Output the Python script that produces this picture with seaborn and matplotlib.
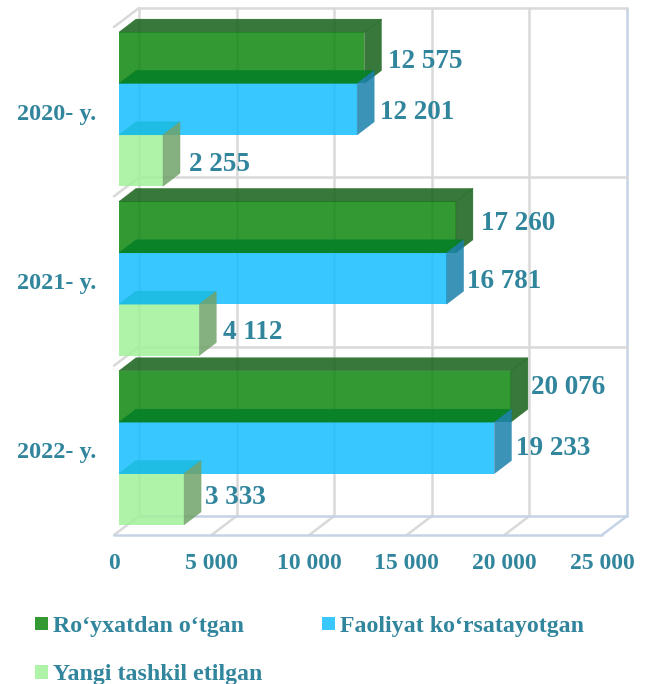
import pandas as pd
import matplotlib
matplotlib.use('Agg')
import matplotlib.pyplot as plt
import seaborn as sns
from matplotlib.patches import Polygon
from matplotlib.transforms import Affine2D

years = ['2020- y.', '2021- y.', '2022- y.']
series = ['Ro‘yxatdan o‘tgan', 'Faoliyat ko‘rsatayotgan', 'Yangi tashkil etilgan']
registered = [12575, 17260, 20076]
active = [12201, 16781, 19233]
new_firms = [2255, 4112, 3333]
x_ticks = [0, 5000, 10000, 15000, 20000, 25000]

front_colors = ['#0f870f', '#15bdff', '#a0f199']
top_colors = ['#156218', '#037f27', '#1bbbde']
side_colors = ['#156218', '#1880ac', '#70a269']
teal = '#31859c'
grid_gray = '#d9d9d9'
floor_blue = '#c5d3e6'

W, H = 649, 684
LEFT, RIGHT, TOP, BOTTOM = 114, 602, 27, 535

df = pd.DataFrame({
    'year': years * 3,
    'kind': [s for s in series for _ in years],
    'value': registered + active + new_firms,
})

sns.set_theme(style='white')
plt.rcParams['font.family'] = ['Liberation Serif', 'DejaVu Serif']
plt.rcParams['font.weight'] = 'bold'

fig = plt.figure(figsize=(W / 100, H / 100), dpi=100)
ax = fig.add_axes([LEFT / W, 1 - BOTTOM / H, (RIGHT - LEFT) / W, (BOTTOM - TOP) / H])

sns.barplot(data=df, y='year', x='value', hue='kind', order=years, hue_order=series,
            palette=front_colors, width=0.91, gap=0, saturation=1, alpha=0.85,
            orient='h', ax=ax, linewidth=0)
ax.set_xlim(0, 25000)
ax.set_ylim(2.5, -0.5)

# chart is a fake 3D box: pixels per data unit, used for the depth offsets
px_x = (RIGHT - LEFT) / 25000
px_y = (BOTTOM - TOP) / 3

# back wall and floor
back = ax.transData + Affine2D().translate(25, 19)
for t in x_ticks:
    c = floor_blue if t == 25000 else grid_gray
    ax.plot([t, t], [-0.5, 2.5], color=c, lw=1.8, transform=back, zorder=1, clip_on=False)
    ax.plot([t, t + 25 / px_x], [2.5, 2.5 - 19 / px_y], color=c, lw=1.8, zorder=1, clip_on=False)
for y in [-0.5, 0.5, 1.5]:
    ax.plot([0, 25000], [y, y], color=grid_gray, lw=1.8, transform=back, zorder=1, clip_on=False)
    ax.plot([0, 25 / px_x], [y, y - 19 / px_y], color=grid_gray, lw=1.8, zorder=1, clip_on=False)
ax.plot([0, 25000], [2.5, 2.5], color=floor_blue, lw=1.8, transform=back, zorder=1.1, clip_on=False)
ax.plot([0, 25000], [2.5, 2.5], color=floor_blue, lw=1.8, zorder=1.1, clip_on=False)

# faces of the bars
shift = ax.transData + Affine2D().translate(5, 2.5)
dx = 17 / px_x
dy = 13 / px_y
# hand placed label offsets in pixels, one row per series
label_dx = [[29, 30, 25], [28, 25, 27], [31, 29, 26]]
label_dy = [[-1, 6, 11], [-1, 0, 2], [-1, 0, 4]]
for i, container in enumerate(ax.containers):
    for j, bar in enumerate(container):
        z = 3 + i
        bar.set_transform(shift)
        bar.set_zorder(z)
        bar.set_clip_on(False)
        x1 = bar.get_width()
        y0 = bar.get_y()
        y1 = y0 + bar.get_height()
        top = [(0, y0), (x1, y0), (x1 + dx, y0 - dy), (dx, y0 - dy)]
        side = [(x1, y0), (x1 + dx, y0 - dy), (x1 + dx, y1 - dy), (x1, y1)]
        ax.add_patch(Polygon(top, fc=top_colors[i], ec=top_colors[i], lw=0.3, alpha=0.85,
                             transform=shift, zorder=z, clip_on=False))
        ax.add_patch(Polygon(side, fc=side_colors[i], ec=side_colors[i], lw=0.3, alpha=0.85,
                             transform=shift, zorder=z, clip_on=False))
        ax.annotate(f'{int(x1):,}'.replace(',', ' '), xy=(x1, (y0 + y1) / 2),
                    xytext=(label_dx[i][j], label_dy[i][j]), textcoords='offset pixels',
                    ha='left', va='center', color=teal, fontsize=19.5, fontweight='bold',
                    zorder=10, annotation_clip=False)

sns.despine(ax=ax, left=True, bottom=True)
ax.set_xlabel('')
ax.set_ylabel('')
ax.set_xticks(x_ticks)
ax.set_xticklabels([f'{t:,}'.replace(',', ' ') for t in x_ticks])
ax.tick_params(axis='x', length=0, pad=12.7, labelsize=17, labelcolor=teal)
ax.tick_params(axis='y', length=0, pad=13, labelsize=17.5, labelcolor=teal)
ax.patch.set_alpha(0)

# legend runs column first, so Yangi goes second
handles, labels = ax.get_legend_handles_labels()
ax.get_legend().remove()
order = [0, 2, 1]
fig.legend([handles[i] for i in order], [labels[i] for i in order], ncol=2,
           loc='upper left', bbox_to_anchor=(35 / W, 1 - 616 / H), frameon=False,
           fontsize=17.2, labelcolor=teal, handlelength=0.55, handleheight=0.5,
           handletextpad=0.22, columnspacing=2.47, labelspacing=1.15, borderpad=0, borderaxespad=0)

fig.savefig('out.png', dpi=100)
